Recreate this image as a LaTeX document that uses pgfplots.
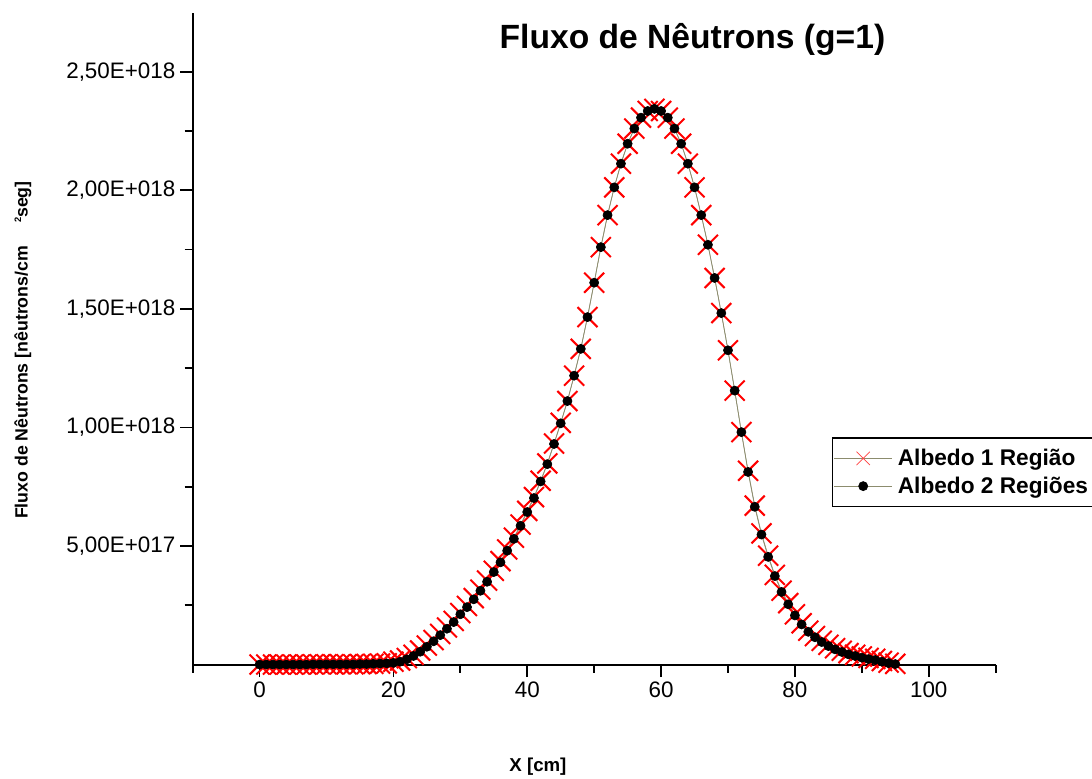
\documentclass[border=0pt]{standalone}
\usepackage{pgfplots}
\pgfplotsset{compat=1.18}
\usepackage{pgfplotstable}
\usepackage{fontspec}
\setmainfont{Liberation Sans}
\definecolor{lineog}{RGB}{140,140,110}
% flux values in units of 1E+18 neutrons/(cm^2 s)
\pgfplotstableread{
x y
0 0.000
1 0.000
2 0.000
3 0.000
4 0.000
5 0.000
6 0.000
7 0.000
8 0.001
9 0.001
10 0.001
11 0.001
12 0.001
13 0.001
14 0.001
15 0.002
16 0.002
17 0.003
18 0.004
19 0.005
20 0.012
21 0.017
22 0.027
23 0.041
24 0.059
25 0.080
26 0.103
27 0.129
28 0.156
29 0.184
30 0.217
31 0.247
32 0.280
33 0.316
34 0.354
35 0.395
36 0.436
37 0.485
38 0.535
39 0.590
40 0.648
41 0.706
42 0.775
43 0.848
44 0.932
45 1.019
46 1.111
47 1.218
48 1.331
49 1.465
50 1.610
51 1.760
52 1.895
53 2.012
54 2.112
55 2.196
56 2.260
57 2.306
58 2.334
59 2.343
60 2.334
61 2.306
62 2.260
63 2.196
64 2.112
65 2.012
66 1.895
67 1.770
68 1.630
69 1.482
70 1.325
71 1.155
72 0.980
73 0.817
74 0.670
75 0.553
76 0.459
77 0.378
78 0.311
79 0.259
80 0.212
81 0.174
82 0.143
83 0.120
84 0.100
85 0.083
86 0.069
87 0.058
88 0.048
89 0.041
90 0.034
91 0.028
92 0.024
93 0.015
94 0.008
95 0.003
}\albedoum
\pgfplotstableread{
x y
0 0.000
1 0.000
2 0.000
3 0.000
4 0.000
5 0.000
6 0.000
7 0.000
8 0.001
9 0.001
10 0.001
11 0.001
12 0.001
13 0.001
14 0.001
15 0.002
16 0.002
17 0.003
18 0.004
19 0.005
20 0.007
21 0.012
22 0.022
23 0.036
24 0.054
25 0.075
26 0.098
27 0.124
28 0.151
29 0.179
30 0.212
31 0.242
32 0.275
33 0.311
34 0.349
35 0.390
36 0.431
37 0.480
38 0.530
39 0.585
40 0.643
41 0.702
42 0.772
43 0.845
44 0.930
45 1.017
46 1.111
47 1.218
48 1.331
49 1.465
50 1.610
51 1.760
52 1.895
53 2.012
54 2.112
55 2.196
56 2.260
57 2.306
58 2.334
59 2.343
60 2.334
61 2.306
62 2.260
63 2.196
64 2.112
65 2.012
66 1.895
67 1.770
68 1.630
69 1.482
70 1.325
71 1.155
72 0.980
73 0.812
74 0.665
75 0.548
76 0.454
77 0.373
78 0.306
79 0.254
80 0.207
81 0.169
82 0.138
83 0.115
84 0.095
85 0.078
86 0.064
87 0.053
88 0.043
89 0.036
90 0.029
91 0.023
92 0.019
93 0.012
94 0.006
95 0.002
}\albedodois
\begin{document}
\begin{tikzpicture}
\path[use as bounding box] (0,0) rectangle (819pt,583.5pt);
\begin{axis}[
  at={(144.5pt,85.1pt)}, anchor=south west,
  scale only axis, width=602.25pt, height=488.6pt,
  xmin=-10, xmax=110, ymin=0, ymax=2.747,
  axis x line*=bottom, axis y line*=left,
  axis line style={line width=1.5pt, black},
  tick align=outside,
  major tick length=9.5pt, minor tick length=6pt,
  every tick/.style={line width=1.3pt, black},
  xtick={0,20,40,60,80,100},
  xticklabels={0,20,40,60,80,100},
  minor xtick={-10,10,30,50,70,90,110},
  ytick={0.5,1,1.5,2,2.5},
  yticklabels={{5,00E+017},{1,00E+018},{1,50E+018},{2,00E+018},{2,50E+018}},
  minor ytick={0.25,0.75,1.25,1.75,2.25},
  ticklabel style={font=\fontsize{16.8}{20}\selectfont},
  title={Fluxo de Nêutrons (g=1)},
  title style={at={(axis description cs:0.6224,0.934)}, anchor=base,
    font=\bfseries\fontsize{25.2}{30}\selectfont},
  xlabel={X [cm]},
  xlabel style={at={(axis description cs:0.43,-0.157)}, anchor=center,
    font=\bfseries\fontsize{14}{17}\selectfont},
  ylabel={Fluxo de Nêutrons [nêutrons/cm\hspace{1.3em}\raisebox{0.7ex}{\fontsize{7}{8}\selectfont 2}seg]},
  ylabel style={at={(axis description cs:-0.2113,0.4827)}, anchor=center,
    font=\bfseries\fontsize{13.3}{16}\selectfont},
  legend style={at={(rel axis cs:0.796,0.349)}, anchor=north west,
    draw=black, line width=1pt, fill=white,
    font=\bfseries\fontsize{17}{21}\selectfont,
    inner xsep=1pt, inner ysep=6.5pt, row sep=3pt,
    nodes={inner xsep=4pt}},
  legend cell align=left,
  legend image code/.code={\draw[mark repeat=2,mark phase=2,#1]
    plot coordinates {(0pt,0pt)(21.75pt,0pt)(43.5pt,0pt)};},
]
\addplot[color=lineog, line width=0.5pt, mark=x, mark size=10.6pt,
  mark options={draw=red, line width=1.5pt},
  legend image code/.code={%
    \draw[lineog, line width=0.5pt] (0pt,0pt) -- (43.5pt,0pt);
    \draw[red!75, line width=0.6pt] (21.75pt,0pt) +(-5pt,-5pt) -- +(5pt,5pt)
      +(-5pt,5pt) -- +(5pt,-5pt);}] table[x=x,y=y] {\albedoum};
\addlegendentry{Albedo 1 Região}
\addplot[color=lineog, line width=0.5pt, mark=*, mark size=3.4pt,
  mark options={draw=black, fill=black}] table[x=x,y=y] {\albedodois};
\addlegendentry{Albedo 2 Regiões}
\end{axis}
\end{tikzpicture}
\end{document}
